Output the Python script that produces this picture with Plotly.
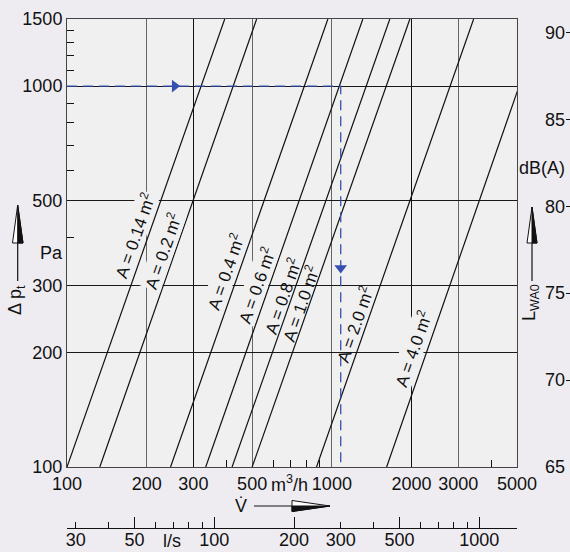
import math
import plotly.graph_objects as go

# ---------------- data ----------------
area_m2 = ["0.14", "0.2", "0.4", "0.6", "0.8", "1.0", "2.0", "4.0"]
flow_at_100pa = [100, 133, 246, 334, 420, 500, 875, 1610]       # m³/h where Δp_t = 100 Pa
flow_at_1500pa = [394, 520, 966, 1309, 1655, 1970, 3430, 6240]  # m³/h where Δp_t = 1500 Pa
line_dp = [100, 1500]                                           # Pa

x_ticks = [100, 200, 300, 500, 1000, 2000, 3000, 5000]
x_dark_grid = [300, 2000]
x_minor = [400, 600, 700, 800, 900, 4000]
y_ticks = [100, 200, 300, 500, 1000, 1500]
y_minor = [400, 600, 700, 800, 900, 1100, 1200, 1300, 1400]
db_ticks = [65, 70, 75, 80, 85, 90]
ls_labels = [30, 50, 100, 200, 300, 500, 1000]
ls_minor = [40, 60, 70, 80, 90, 400, 600, 700, 800, 900]
ls_major = [50, 100, 200, 500, 1000]

example_flow = 1080   # m³/h  (= 300 l/s)
example_dp = 1000     # Pa

# ---------------- layout constants ----------------
W, H = 570, 552
ML, MR, MT, MB = 67, 0, 19, 24
PW = W - ML - MR
PH = H - MT - MB
PLOT_RIGHT = 517
PLOT_BOTTOM = 467
XDOM = [0, (PLOT_RIGHT - ML) / PW]
YDOM = [(H - MB - PLOT_BOTTOM) / PH, 1]
X_RANGE = [100, 5000]
Y_RANGE = [100, 1500]
DB_RANGE = [65, 90.77]

FONT = "Liberation Sans, Arial, Helvetica, sans-serif"
INK = "#111111"
BLUE = "#3550b0"


def px(x, y):
    return (x - ML) / PW, (H - MB - y) / PH


def flow_on_line(i, dp):
    l0, l1 = math.log10(flow_at_100pa[i]), math.log10(flow_at_1500pa[i])
    t = (math.log10(dp) - math.log10(line_dp[0])) / (math.log10(line_dp[1]) - math.log10(line_dp[0]))
    return 10 ** (l0 + t * (l1 - l0))


fig = go.Figure()

# dummy traces so secondary axes are drawn (first, so they sit underneath)
fig.add_trace(go.Scatter(x=[], y=[], xaxis="x4", yaxis="y", showlegend=False, hoverinfo="skip"))
fig.add_trace(go.Scatter(x=[], y=[], xaxis="x2", yaxis="y", showlegend=False, hoverinfo="skip"))
fig.add_trace(go.Scatter(x=[], y=[], xaxis="x3", yaxis="y", showlegend=False, hoverinfo="skip"))
fig.add_trace(go.Scatter(x=[], y=[], xaxis="x", yaxis="y2", showlegend=False, hoverinfo="skip"))

# characteristic lines
for i, a in enumerate(area_m2):
    fig.add_trace(go.Scatter(
        x=[flow_at_100pa[i], flow_at_1500pa[i]], y=line_dp,
        mode="lines", line=dict(color=INK, width=1.2),
        hoverinfo="skip", showlegend=False, cliponaxis=True))

# example reading (dashed blue)
fig.add_trace(go.Scatter(
    x=[X_RANGE[0], example_flow, example_flow], y=[example_dp, example_dp, Y_RANGE[0]],
    mode="lines", line=dict(color=BLUE, width=1.3, dash="10px,6px"),
    hoverinfo="skip", showlegend=False))
fig.add_trace(go.Scatter(
    x=[255], y=[example_dp], mode="markers",
    marker=dict(symbol="triangle-right", size=11, color=BLUE),
    hoverinfo="skip", showlegend=False))
fig.add_trace(go.Scatter(
    x=[example_flow], y=[333], mode="markers",
    marker=dict(symbol="triangle-down", size=11, color=BLUE),
    hoverinfo="skip", showlegend=False))

tickfont = dict(family=FONT, size=18, color=INK)

ls_lo = X_RANGE[0] / 3.6
ls_hi = X_RANGE[1] / 3.6
ls_vals = [ls_lo * 1.0001] + sorted(ls_labels + ls_minor) + [ls_hi * 0.9999]
ls_text = [""] + [str(v) if v in ls_labels else "" for v in sorted(ls_labels + ls_minor)] + [""]

fig.update_layout(
    width=W, height=H, autosize=False,
    margin=dict(l=ML, r=MR, t=MT, b=MB, pad=0, autoexpand=False),
    paper_bgcolor="#eeecf1", plot_bgcolor="#f0f0f0",
    font=dict(family=FONT, size=18, color=INK),
    showlegend=False,
    xaxis=dict(
        type="log", domain=XDOM, automargin=False,
        range=[math.log10(X_RANGE[0]), math.log10(X_RANGE[1])],
        tickvals=x_ticks, ticktext=[str(v) for v in x_ticks],
        ticks="", showgrid=True, gridcolor="#666666", gridwidth=1,
        showline=True, linecolor="#444444", linewidth=1, mirror=True,
        zeroline=False, tickfont=tickfont, anchor="y",
        minor=dict(tickvals=x_minor, ticks="inside", ticklen=7,
                   tickcolor=INK, showgrid=False),
    ),
    xaxis4=dict(
        type="log", overlaying="x", anchor="y", automargin=False,
        range=[math.log10(X_RANGE[0]), math.log10(X_RANGE[1])],
        tickvals=x_dark_grid, showticklabels=False, ticks="",
        showgrid=True, gridcolor="#111111", gridwidth=1,
        showline=False, zeroline=False,
    ),
    yaxis=dict(
        type="log", domain=YDOM, automargin=False,
        range=[math.log10(Y_RANGE[0]), math.log10(Y_RANGE[1])],
        tickvals=y_ticks, ticktext=[str(v) for v in y_ticks],
        ticks="", showgrid=True, gridcolor="#1a1a1a", gridwidth=1,
        showline=True, linecolor="#444444", linewidth=1, mirror=True,
        zeroline=False, tickfont=tickfont, anchor="x",
        minor=dict(tickvals=y_minor, ticks="inside", ticklen=7,
                   tickcolor=INK, showgrid=False),
    ),
    xaxis2=dict(
        type="log", overlaying="x", anchor="free", position=0, side="bottom",
        automargin=False, ticklabelstandoff=-5,
        range=[math.log10(ls_lo), math.log10(ls_hi)],
        tickvals=ls_vals, ticktext=ls_text,
        ticks="inside", ticklen=6, tickcolor=INK, tickwidth=1,
        showline=True, linecolor=INK, linewidth=1,
        showgrid=False, zeroline=False, tickfont=tickfont,
    ),
    xaxis3=dict(
        type="log", overlaying="x", anchor="free", position=0, side="bottom",
        automargin=False,
        range=[math.log10(ls_lo), math.log10(ls_hi)],
        tickvals=ls_major, showticklabels=False,
        ticks="inside", ticklen=11, tickcolor=INK, tickwidth=1,
        showline=False, showgrid=False, zeroline=False,
    ),
    yaxis2=dict(
        overlaying="y", anchor="free", position=(565 - ML) / PW, side="left",
        automargin=False,
        range=DB_RANGE,
        tickvals=db_ticks + [DB_RANGE[1] - 0.001],
        ticktext=[str(v) for v in db_ticks] + [""],
        ticks="inside", ticklen=7, tickcolor=INK,
        showline=False, showgrid=False, zeroline=False, tickfont=tickfont,
    ),
)

# line labels
label_dp = [406, 369, 325, 300, 281, 269, 237, 205]
label_dx = [-14, -13, -14, -13, -10, -9, -12, -15]
label_bg = [True, True, True, True, False, False, False, True]
angle = -math.degrees(math.atan(2.844))
for i, a in enumerate(area_m2):
    v = flow_on_line(i, label_dp[i])
    fig.add_annotation(
        x=math.log10(v), y=math.log10(label_dp[i]), xref="x", yref="y",
        text=f"A = {a} m<sup>2</sup>", showarrow=False, textangle=angle,
        xshift=label_dx[i], font=dict(family=FONT, size=17, color=INK),
        bgcolor="#f0f0f0" if label_bg[i] else None, borderpad=0,
        xanchor="center", yanchor="middle")


# axis titles and units
def ann(x, y, text, angle=0, size=18, xanchor="center"):
    ax, ay = px(x, y)
    fig.add_annotation(x=ax, y=ay, xref="paper", yref="paper", text=text,
                       showarrow=False, textangle=angle, xanchor=xanchor, yanchor="middle",
                       font=dict(family=FONT, size=size, color=INK))


ann(17, 300, "Δ p<sub>t</sub>", angle=-90)
ann(51, 253, "Pa")
ann(269, 483, "m<sup>3</sup>/h", xanchor="left")
ann(241, 506, "V̇")
ann(172, 541, "l/s")
ann(542, 168, "dB(A)")
ann(530, 303, "L<sub>WA0</sub>", angle=-90)


# decorative arrows (half-filled heads)
def seg(x0, y0, x1, y1):
    a0, b0 = px(x0, y0)
    a1, b1 = px(x1, y1)
    fig.add_shape(type="line", xref="paper", yref="paper", x0=a0, y0=b0, x1=a1, y1=b1,
                  line=dict(color=INK, width=1.2))


def tri(points, fill):
    path = ""
    for k, (x, y) in enumerate(points):
        a, b = px(x, y)
        path += ("M" if k == 0 else "L") + f"{a},{b} "
    path += "Z"
    fig.add_shape(type="path", xref="paper", yref="paper", path=path,
                  fillcolor=fill, line=dict(color=INK, width=1))


# up arrow left (Δp)
seg(17.7, 281, 17.7, 243)
tri([(17.7, 205), (12.5, 243), (23, 243)], "#ffffff")
tri([(17.7, 205), (17.7, 243), (23, 243)], INK)
# up arrow right (L_WA0)
seg(532, 281, 532, 243)
tri([(532, 207), (527, 243), (537, 243)], "#ffffff")
tri([(532, 207), (532, 243), (537, 243)], INK)
# right arrow bottom (V)
seg(254, 506, 292, 506)
tri([(330, 506), (292, 500.5), (292, 511.5)], "#ffffff")
tri([(330, 506), (292, 506), (292, 511.5)], INK)

fig.write_html("out.html",
               config={"responsive": False, "displayModeBar": False},
               post_script="document.body.style.margin='0';document.body.style.overflow='hidden';")
